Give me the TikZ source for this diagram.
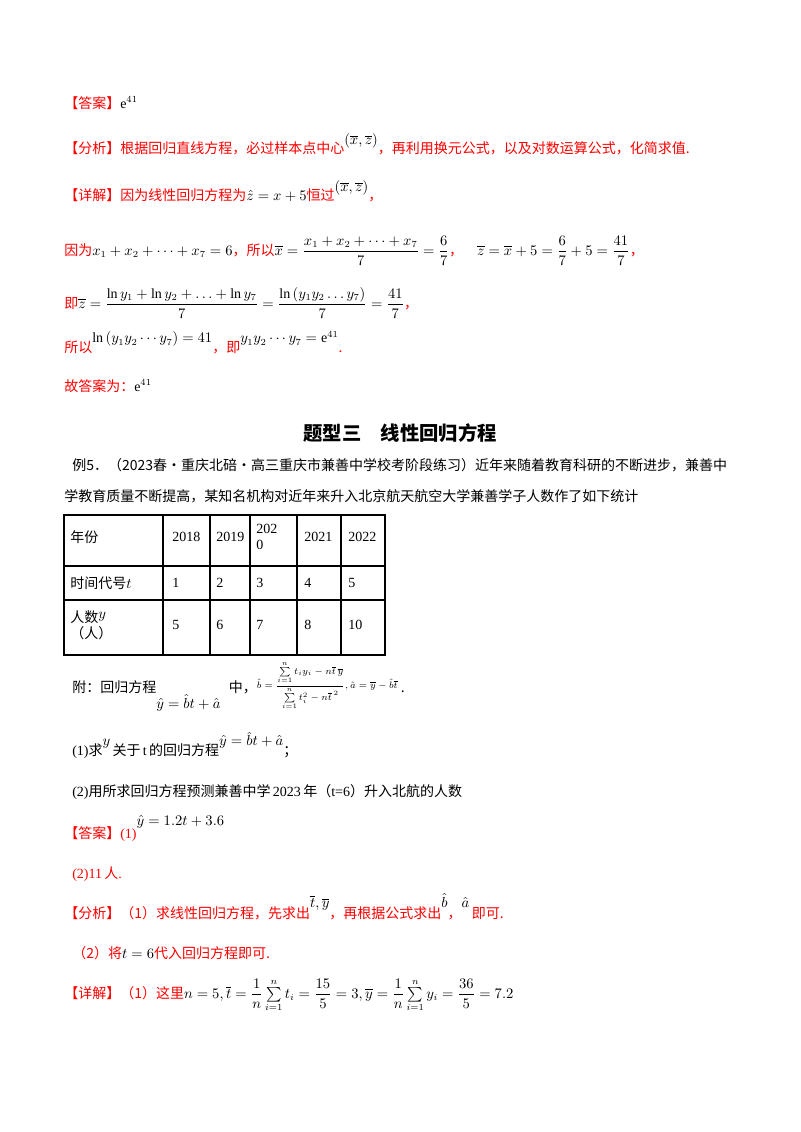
\documentclass[tikz,border=0pt]{standalone}
\usepackage{amsmath}
\usepackage{fontspec}
\setmainfont{Liberation Serif}
\newfontfamily\cjk{Noto Sans CJK SC}
\begin{document}
\begin{tikzpicture}[x=0.75pt,y=-0.75pt,
  txt/.style={anchor=base west,inner sep=0,font=\fontsize{10.5}{12}\selectfont},
  rtxt/.style={txt,text=red},
  cell/.style={anchor=west,inner sep=0,font=\fontsize{10.5}{12}\selectfont,align=left}]
\useasboundingbox (0,0) rectangle (800,1132);
\node[rtxt] (a1) at (64,108) {\cjk【答案】\rmfamily\color{black}$\mathrm{e}^{41}$};
\node[rtxt] (a2) at (64,153) {\cjk【分析】根据回归直线方程，必过样本点中心\raisebox{1.1ex}{\color{black}$\left(\overline{x},\overline{z}\right)$}，再利用换元公式，以及对数运算公式，化简求值.};
\node[rtxt] (a3) at (64,200) {\cjk【详解】因为线性回归方程为{\color{black}$\hat z=x+5$}恒过\raisebox{1.1ex}{\color{black}$\left(\overline{x},\overline{z}\right)$}，};
\node[rtxt] (a4) at (64,255) {\cjk 因为{\color{black}$x_1+x_2+\cdots+x_7=6$}，所以{\color{black}$\overline{x}=\dfrac{x_1+x_2+\cdots+x_7}{7}=\dfrac{6}{7}$}，\quad{\color{black}$\overline{z}=\overline{x}+5=\dfrac{6}{7}+5=\dfrac{41}{7}$}，};
\node[rtxt] (a5) at (64,308) {\cjk 即{\color{black}$\overline{z}=\dfrac{\ln y_1+\ln y_2+\ldots+\ln y_7}{7}=\dfrac{\ln\left(y_1y_2\ldots y_7\right)}{7}=\dfrac{41}{7}$}，};
\node[rtxt] (a6) at (64,352) {\cjk 所以\raisebox{1.2ex}{\color{black}$\ln\left(y_1y_2\cdots y_7\right)=41$}，即\raisebox{1.2ex}{\color{black}$y_1y_2\cdots y_7=\mathrm{e}^{41}$}.};
\node[rtxt] (a7) at (64,391) {\cjk 故答案为：\color{black}\rmfamily$\mathrm{e}^{41}$};
\node[anchor=base,inner sep=0,font=\fontsize{14.5}{16}\selectfont\cjk\bfseries] (title) at (400,440) {题型三\quad 线性回归方程};
\node[txt] (e1) at (72,470) {\cjk 例5．（2023春·重庆北碚·高三重庆市兼善中学校考阶段练习）近年来随着教育科研的不断进步，兼善中};
\node[txt] (e2) at (64,501) {\cjk 学教育质量不断提高，某知名机构对近年来升入北京航天航空大学兼善学子人数作了如下统计};
% table
\draw[line width=0.8pt] (64,515) rectangle (385,655);
\foreach \y in {566,600} \draw[line width=0.8pt] (64,\y) -- (385,\y);
\foreach \x in {163,210,250,297,341} \draw[line width=0.8pt] (\x,515) -- (\x,655);
\node[cell] (h0) at (70,537) {\cjk 年份};
\node[cell] (h1) at (172,537) {2018};
\node[cell] (h2) at (216,537) {2019};
\node[cell] (h3) at (256,537) {202\\0};
\node[cell] (h4) at (304,537) {2021};
\node[cell] (h5) at (348,537) {2022};
\node[cell] (t0) at (70,583) {\cjk 时间代号\rmfamily$t$};
\node[cell] (t1) at (172,583) {1};
\node[cell] (t2) at (216,583) {2};
\node[cell] (t3) at (256,583) {3};
\node[cell] (t4) at (304,583) {4};
\node[cell] (t5) at (348,583) {5};
\node[cell] (p0) at (70,625) {\cjk 人数\rmfamily\raisebox{0.6ex}{$y$}\\\cjk（人）};
\node[cell] (p1) at (172,625) {5};
\node[cell] (p2) at (216,625) {6};
\node[cell] (p3) at (256,625) {7};
\node[cell] (p4) at (304,625) {8};
\node[cell] (p5) at (348,625) {10};
\node[txt] (f1) at (72,692) {\cjk 附：回归方程\raisebox{-2.2ex}{\rmfamily$\hat y=\hat bt+\hat a$}\hspace{0.6em}中，\raisebox{0.5ex}{\scriptsize\rmfamily$\hat b=\dfrac{\sum\limits_{i=1}^{n}t_iy_i-n\overline{t}\,\overline{y}}{\sum\limits_{i=1}^{n}t_i^2-n\overline{t}^{\,2}},\hat a=\overline{y}-\hat b\overline{t}$}\ .};
\node[txt] (q1) at (72,755) {\rmfamily(1)\cjk 求\raisebox{1.2ex}{\rmfamily$y$}\,关于\,\rmfamily t\,\cjk 的回归方程\raisebox{1.2ex}{\rmfamily$\hat y=\hat bt+\hat a$}；};
\node[txt] (q2) at (72,796) {\rmfamily(2)\cjk 用所求回归方程预测兼善中学\rmfamily\,2023\,\cjk 年（\rmfamily t=6\cjk）升入北航的人数};
\node[rtxt] (r1) at (64,838) {\cjk【答案】\rmfamily(1)\raisebox{1.9ex}{\color{black}$\hat y=1.2t+3.6$}};
\node[rtxt] (r2) at (72,878) {\rmfamily(2)11\,\cjk 人\rmfamily.};
\node[rtxt] (r3) at (64,918) {\cjk【分析】（1）求线性回归方程，先求出\raisebox{1.4ex}{\color{black}\rmfamily$\overline{t},\overline{y}$}，再根据公式求出\raisebox{1.4ex}{\color{black}\rmfamily$\hat b$}，\raisebox{1.4ex}{\color{black}\rmfamily$\hat a$}\,即可.};
\node[rtxt] (r4) at (72,958) {\cjk（2）将{\color{black}\rmfamily$t=6$}代入回归方程即可.};
\node[rtxt] (r5) at (64,998) {\cjk【详解】（1）这里{\color{black}\rmfamily$n=5,\overline{t}=\dfrac{1}{n}\sum\limits_{i=1}^{n}t_i=\dfrac{15}{5}=3,\overline{y}=\dfrac{1}{n}\sum\limits_{i=1}^{n}y_i=\dfrac{36}{5}=7.2$}};
\end{tikzpicture}
\end{document}
